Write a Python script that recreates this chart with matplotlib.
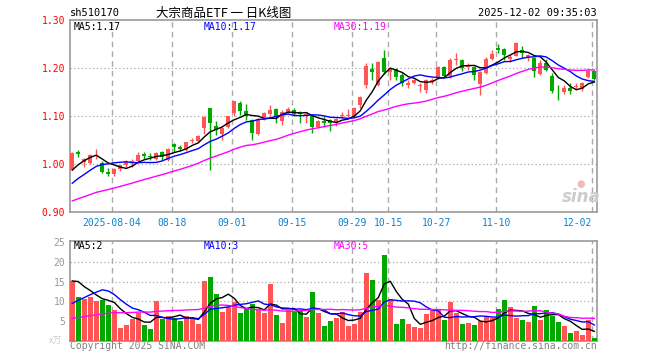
import matplotlib
matplotlib.use("Agg")
import matplotlib.pyplot as plt
import numpy as np
import pandas as pd

plt.rcParams['font.family'] = ['DejaVu Sans Mono', 'Noto Sans CJK SC']

# daily candles 2025-07-24 .. 2025-12-02
opens = [0.988, 1.025, 1.004, 1.002, 1.016, 1.003, 0.983, 0.980, 0.989, 0.998,
         1.004, 1.006, 1.021, 1.017, 1.010, 1.025, 1.008, 1.042, 1.035, 1.029,
         1.047, 1.047, 1.074, 1.117, 1.079, 1.063, 1.078, 1.107, 1.128, 1.110,
         1.092, 1.062, 1.095, 1.104, 1.114, 1.090, 1.109, 1.112, 1.109, 1.099,
         1.099, 1.078, 1.090, 1.092, 1.087, 1.100, 1.099, 1.100, 1.123, 1.165,
         1.198, 1.165, 1.220, 1.192, 1.197, 1.185, 1.164, 1.169, 1.162, 1.154,
         1.171, 1.180, 1.203, 1.183, 1.216, 1.217, 1.203, 1.203, 1.166, 1.189,
         1.219, 1.241, 1.240, 1.219, 1.226, 1.238, 1.223, 1.220, 1.187, 1.210,
         1.184, 1.151, 1.149, 1.159, 1.160, 1.156, 1.182, 1.194]
closes = [1.023, 1.021, 1.010, 1.019, 1.019, 0.983, 0.979, 0.990, 0.997, 1.005,
          1.007, 1.019, 1.016, 1.014, 1.023, 1.014, 1.032, 1.036, 1.031, 1.045,
          1.050, 1.058, 1.098, 1.085, 1.070, 1.076, 1.099, 1.131, 1.110, 1.100,
          1.065, 1.093, 1.106, 1.112, 1.099, 1.109, 1.114, 1.104, 1.104, 1.105,
          1.078, 1.090, 1.086, 1.085, 1.093, 1.103, 1.102, 1.116, 1.140, 1.204,
          1.192, 1.212, 1.192, 1.199, 1.182, 1.168, 1.169, 1.175, 1.164, 1.175,
          1.175, 1.203, 1.183, 1.217, 1.219, 1.200, 1.206, 1.185, 1.192, 1.219,
          1.229, 1.238, 1.227, 1.222, 1.253, 1.232, 1.228, 1.194, 1.210, 1.196,
          1.152, 1.149, 1.159, 1.152, 1.162, 1.168, 1.194, 1.178]
highs = [1.025, 1.029, 1.012, 1.021, 1.031, 1.006, 0.991, 0.991, 0.998, 1.008,
         1.010, 1.025, 1.024, 1.022, 1.025, 1.027, 1.034, 1.044, 1.040, 1.046,
         1.055, 1.060, 1.100, 1.117, 1.090, 1.077, 1.100, 1.132, 1.131, 1.126,
         1.094, 1.095, 1.108, 1.123, 1.116, 1.112, 1.118, 1.116, 1.111, 1.107,
         1.101, 1.092, 1.099, 1.093, 1.095, 1.109, 1.114, 1.118, 1.141, 1.210,
         1.210, 1.214, 1.238, 1.201, 1.199, 1.190, 1.174, 1.178, 1.168, 1.177,
         1.179, 1.205, 1.205, 1.220, 1.231, 1.219, 1.210, 1.205, 1.194, 1.222,
         1.238, 1.250, 1.241, 1.228, 1.255, 1.245, 1.230, 1.222, 1.216, 1.218,
         1.189, 1.165, 1.165, 1.168, 1.168, 1.171, 1.198, 1.196]
lows = [0.987, 1.014, 0.994, 1.001, 1.010, 0.981, 0.975, 0.976, 0.985, 0.994,
        0.993, 1.004, 1.011, 1.008, 1.008, 1.008, 1.006, 1.024, 1.027, 1.027,
        1.043, 1.045, 1.062, 0.988, 1.060, 1.050, 1.075, 1.099, 1.103, 1.092,
        1.050, 1.060, 1.092, 1.100, 1.085, 1.081, 1.106, 1.100, 1.086, 1.086,
        1.065, 1.076, 1.078, 1.068, 1.080, 1.095, 1.097, 1.098, 1.116, 1.158,
        1.176, 1.163, 1.188, 1.175, 1.176, 1.163, 1.159, 1.166, 1.149, 1.147,
        1.167, 1.178, 1.180, 1.180, 1.206, 1.194, 1.195, 1.175, 1.144, 1.187,
        1.216, 1.232, 1.217, 1.212, 1.224, 1.221, 1.215, 1.182, 1.185, 1.193,
        1.148, 1.133, 1.146, 1.146, 1.154, 1.152, 1.180, 1.176]
# volume, 万手
volumes = [15.2, 11.2, 10.5, 11.2, 10.2, 10.4, 9.1, 7.9, 3.3, 4.1,
           5.5, 7.0, 4.1, 3.1, 10.2, 5.5, 6.2, 5.8, 5.1, 6.3,
           5.7, 4.3, 15.2, 16.2, 11.9, 7.4, 8.6, 9.9, 7.1, 8.0,
           9.3, 7.9, 7.1, 14.5, 6.6, 4.6, 7.9, 7.4, 7.9, 6.1,
           12.4, 7.1, 3.8, 5.1, 5.8, 7.4, 3.8, 4.4, 7.4, 17.3,
           15.5, 10.3, 21.8, 10.7, 4.3, 5.6, 4.3, 3.6, 3.3, 6.9,
           7.8, 8.1, 5.4, 9.9, 7.1, 4.3, 4.6, 4.1, 5.1, 6.1,
           5.9, 8.1, 10.4, 8.6, 5.7, 5.3, 4.9, 8.9, 5.3, 7.9,
           6.4, 4.9, 3.8, 2.0, 2.5, 1.5, 5.4, 0.8]

# 29 sessions before the window, estimated so the MA lines start where they do
pre_close = [0.880, 0.883, 0.885, 0.887, 0.890, 0.893, 0.895, 0.898, 0.900, 0.903,
             0.906, 0.909, 0.911, 0.914, 0.917, 0.919, 0.922, 0.924, 0.927, 0.930,
             0.920, 0.926, 0.932, 0.939, 0.945, 0.965, 0.968, 0.985, 0.996]
pre_volume = [3.5, 4.2, 3.6, 3.9, 4.1, 3.4, 3.7, 4.0, 3.8, 3.6,
              4.3, 3.5, 3.9, 3.7, 4.0, 3.6, 3.8, 4.1, 3.5, 3.8,
              3.2, 3.6, 3.9, 4.0, 4.3, 12.0, 17.0, 16.0, 15.8]

tick_idx = [7, 17, 27, 37, 47, 53, 61, 71, 87]
tick_labels = ["2025-08-04", "08-18", "09-01", "09-15", "09-29",
               "10-15", "10-27", "11-10", "12-02"]

RED = "#ff5555"
GREEN = "#00a800"
GRID = "#aaaaaa"
FRAME = "#999999"


def moving_average(history, values, n):
    s = pd.Series(history + values)
    return s.rolling(n).mean().iloc[len(history):].values


n = len(closes)
x = np.arange(n)
o = np.array(opens)
c = np.array(closes)
up = c >= o
colors = [RED if u else GREEN for u in up]

fig = plt.figure(figsize=(6.6, 3.6), dpi=100)
W, H = 660, 360
ax = fig.add_axes([70 / W, 1 - 212 / H, 527 / W, 192 / H])
axv = fig.add_axes([70 / W, 1 - 341 / H, 527 / W, 100 / H])

xlim = (-0.38, 87.45)

# price panel
ax.vlines(x, lows, highs, colors=colors, linewidth=1, zorder=3)
body = np.maximum(np.abs(c - o), 0.0015)
ax.bar(x, body, bottom=np.minimum(o, c), width=0.72, color=colors, linewidth=0, zorder=4)
ax.plot(x, moving_average(pre_close, closes, 5), color="black", lw=1, zorder=5)
ax.plot(x, moving_average(pre_close, closes, 10), color="#0000ff", lw=1, zorder=5)
ax.plot(x, moving_average(pre_close, closes, 30), color="#ff00ff", lw=1, zorder=5)
ax.set_ylim(0.90, 1.30)
ax.set_xlim(*xlim)
ax.set_yticks([0.90, 1.00, 1.10, 1.20, 1.30])
ax.set_yticklabels(["%.2f" % v for v in [0.90, 1.00, 1.10, 1.20, 1.30]], color="#ff0000", fontsize=7)
for lv in [1.00, 1.10, 1.20]:
    ax.axhline(lv, color=GRID, lw=0.9, ls=(0, (1, 2)), zorder=1)
ax.set_xticks(np.array(tick_idx) - 0.35)
ax.set_xticklabels(tick_labels, color="#0a84d0", fontsize=7)
ax.get_xticklabels()[-1].set_horizontalalignment("right")
ax.tick_params(length=0, pad=3.5)
ax.tick_params(axis="x", pad=4)

# volume panel
axv.bar(x, volumes, width=0.83, color=colors, linewidth=0, zorder=3)
axv.plot(x, moving_average(pre_volume, volumes, 5), color="black", lw=1, zorder=5)
axv.plot(x, moving_average(pre_volume, volumes, 10), color="#0000ff", lw=1, zorder=5)
axv.plot(x, moving_average(pre_volume, volumes, 30), color="#ff00ff", lw=1, zorder=5)
axv.set_xlim(*xlim)
axv.set_ylim(0, 25.3)
axv.set_yticks([5, 10, 15, 20, 25])
axv.set_yticklabels(["5", "10", "15", "20", "25"], color=FRAME, fontsize=7)
axv.set_xticks([])
axv.tick_params(length=0, pad=3.5)
for lv in [10, 15, 20]:
    axv.axhline(lv, color=GRID, lw=0.9, ls=(0, (1, 2)), zorder=1)

for a in (ax, axv):
    for t in tick_idx:
        a.axvline(t - 0.35, color=GRID, lw=1, ls=(0, (4, 3)), zorder=1)
    for sp in a.spines.values():
        sp.set_color(FRAME)
        sp.set_linewidth(1.2)


def ptext(px, py, s, **kw):
    fig.text(px / W, 1 - py / H, s, va="center", **kw)


# header
ptext(70, 13, "sh510170", fontsize=7.5, color="black")
ptext(224, 13, "大宗商品ETF 一 日K线图", fontsize=9, color="black", ha="center",
      family=["Noto Sans CJK SC", "DejaVu Sans"])
ptext(597, 13, "2025-12-02 09:35:03", fontsize=7.5, color="black", ha="right")

# MA legends
ptext(74, 27, "MA5:1.17", fontsize=7, color="black")
ptext(204, 27, "MA10:1.17", fontsize=7, color="#0000ff")
ptext(334, 27, "MA30:1.19", fontsize=7, color="#ff00ff")
ptext(74, 246, "MA5:2", fontsize=7, color="black")
ptext(204, 246, "MA10:3", fontsize=7, color="#0000ff")
ptext(334, 246, "MA30:5", fontsize=7, color="#ff00ff")

# watermark and footer
ptext(581, 197, "sina", fontsize=12, color="#cccccc", ha="center",
      style="italic", weight="bold", family="DejaVu Sans")
ptext(581, 184, "●", fontsize=7, color="#f4b8b8", ha="center", family="DejaVu Sans")
ptext(56, 341, "x万", fontsize=6.5, color="#cccccc", ha="center",
      family=["Noto Sans CJK SC", "DejaVu Sans"])
ptext(70, 346, "Copyright 2025 SINA.COM", fontsize=7, color="#808080")
ptext(597, 346, "http://finance.sina.com.cn", fontsize=7, color="#808080", ha="right")

fig.savefig("out.png", dpi=100)
